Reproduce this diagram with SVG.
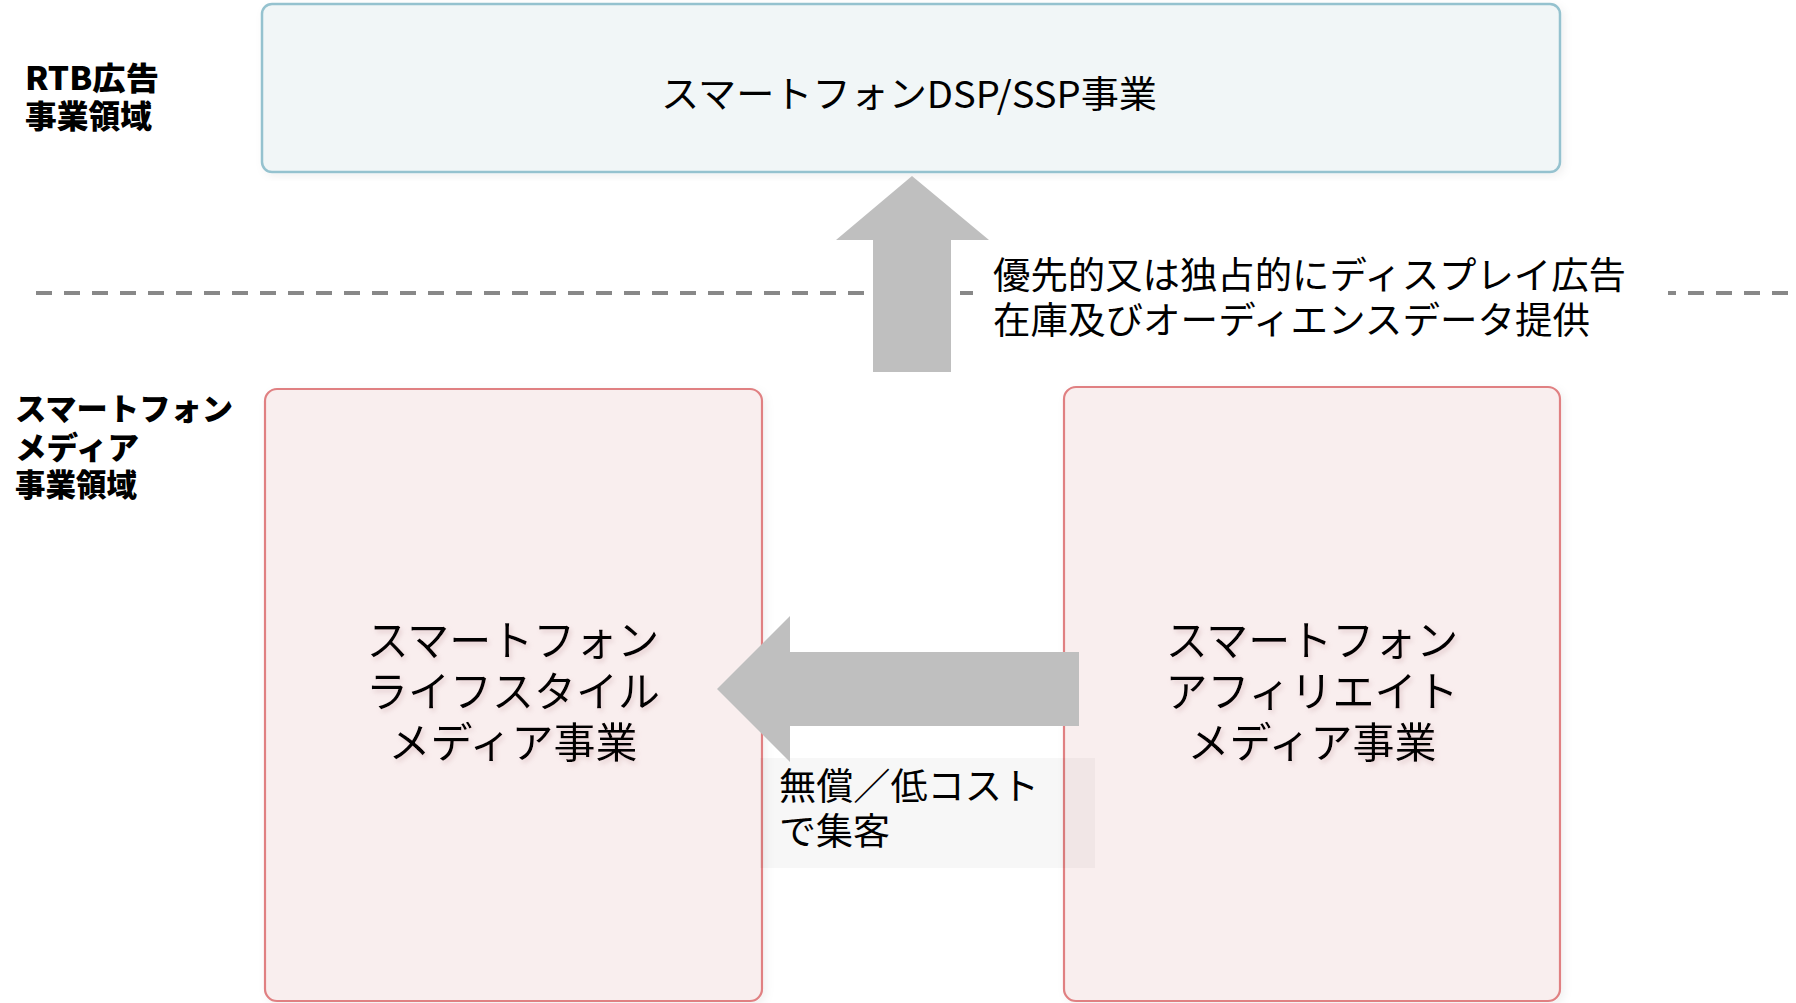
<svg xmlns="http://www.w3.org/2000/svg" width="1796" height="1003" viewBox="0 0 1796 1003">
<defs>
<style>
.jp{font-family:"Noto Sans CJK JP","Noto Sans",sans-serif;fill:#000;}
.side{font-family:"Noto Sans CJK JP","Noto Sans",sans-serif;font-weight:900;fill:#000;}
.boxtxt{font-size:42px;text-anchor:middle;}
.pink{fill:#f9eeee;stroke:#e08082;stroke-width:2.2;}
.blue{fill:#f1f6f7;stroke:#95c2cf;stroke-width:2.5;}
.arrow{fill:#bfbfbf;}
</style>
<filter id="shadow" x="-5%" y="-5%" width="110%" height="110%">
<feDropShadow dx="3" dy="3" stdDeviation="4" flood-color="#000" flood-opacity="0.06"/>
</filter>
<filter id="tshadow" x="-10%" y="-20%" width="120%" height="140%">
<feDropShadow dx="2" dy="3" stdDeviation="2.5" flood-color="#c9a3a8" flood-opacity="0.45"/>
</filter>
</defs>
<rect width="1796" height="1003" fill="#fff"/>

<g id="divider">
<line x1="36" y1="293" x2="1796" y2="293" stroke="#888" stroke-width="4" stroke-dasharray="16 12"/>
</g>

<g id="labels">
<text class="side" font-size="32"><tspan x="25" y="90" textLength="134" lengthAdjust="spacingAndGlyphs">RTB広告</tspan><tspan x="25" y="128" textLength="127" lengthAdjust="spacingAndGlyphs">事業領域</tspan></text>
<text class="side" font-size="31"><tspan x="15" y="420" textLength="218" lengthAdjust="spacingAndGlyphs">スマートフォン</tspan><tspan x="15" y="459" textLength="124" lengthAdjust="spacingAndGlyphs">メディア</tspan><tspan x="15" y="496" textLength="122" lengthAdjust="spacingAndGlyphs">事業領域</tspan></text>
</g>

<g id="node-dsp">
<rect class="blue" x="262" y="4" width="1298" height="168" rx="10" filter="url(#shadow)"/>
<text class="jp" x="909" y="108" font-size="37" text-anchor="middle" textLength="496" lengthAdjust="spacingAndGlyphs">スマートフォンDSP/SSP事業</text>
</g>

<g id="node-lifestyle">
<rect class="pink" x="265" y="389" width="497" height="612" rx="12" filter="url(#shadow)"/>
<text class="jp boxtxt" filter="url(#tshadow)"><tspan x="513" y="656">スマートフォン</tspan><tspan x="513" y="707">ライフスタイル</tspan><tspan x="513" y="758">メディア事業</tspan></text>
</g>

<g id="node-affiliate">
<rect class="pink" x="1064" y="387" width="496" height="614" rx="12" filter="url(#shadow)"/>
<text class="jp boxtxt" filter="url(#tshadow)"><tspan x="1312" y="656">スマートフォン</tspan><tspan x="1312" y="707">アフィリエイト</tspan><tspan x="1312" y="758">メディア事業</tspan></text>
</g>

<g id="connectors">
<rect x="973" y="250" width="695" height="96" fill="#fff"/>
<polygon class="arrow" points="912,176 989,240 951,240 951,372 873,372 873,240 836,240"/>
<text class="jp" font-size="37"><tspan x="993" y="289" textLength="633" lengthAdjust="spacingAndGlyphs">優先的又は独占的にディスプレイ広告</tspan><tspan x="993" y="334" textLength="597" lengthAdjust="spacingAndGlyphs">在庫及びオーディエンスデータ提供</tspan></text>

<rect x="760" y="758" width="335" height="110" fill="#000" fill-opacity="0.03"/>
<polygon class="arrow" points="717,689 790,616 790,652 1079,652 1079,726 790,726 790,762"/>
<text class="jp" font-size="37"><tspan x="779" y="800" textLength="260" lengthAdjust="spacingAndGlyphs">無償／低コスト</tspan><tspan x="779" y="845">で集客</tspan></text>
</g>
</svg>
